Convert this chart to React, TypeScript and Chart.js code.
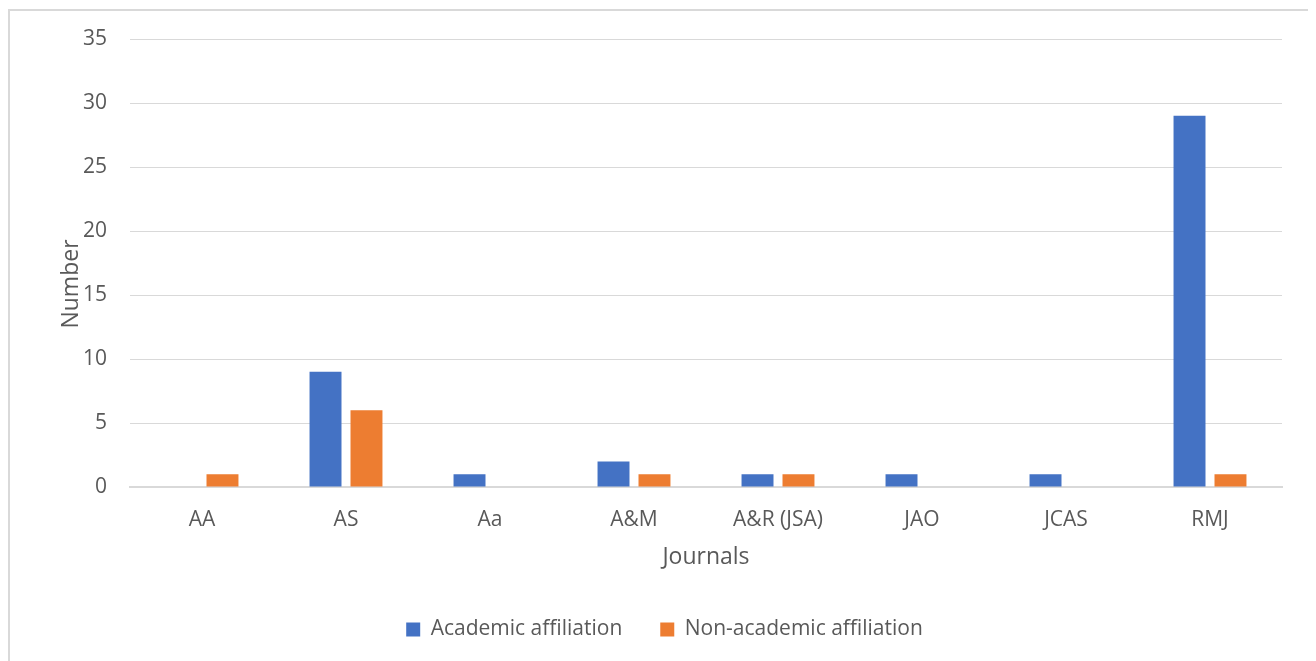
import React, { useEffect, useRef } from "react";
import { Chart, registerables } from "chart.js";

Chart.register(...registerables);

const categories = ["AA", "AS", "Aa", "A&M", "A&R (JSA)", "JAO", "JCAS", "RMJ"];
const academic = [0, 9, 1, 2, 1, 1, 1, 29];
const nonAcademic = [1, 6, 0, 1, 1, 0, 0, 1];
const yTicks = [0, 5, 10, 15, 20, 25, 30, 35];
const seriesNames = ["Academic affiliation", "Non-academic affiliation"];
const xTitle = "Journals";
const yTitle = "Number";

const FONT = "'Open Sans', sans-serif";
const TEXT = "#595959";
const GRID = "#D9D9D9";
const BLUE = "#4472C4";
const ORANGE = "#ED7D31";

export default function App() {
  const ref = useRef<HTMLCanvasElement>(null);

  useEffect(() => {
    document.body.style.overflow = "hidden";
    const yTitlePlugin = {
      id: "yTitlePlugin",
      afterDraw(chart: any) {
        const { ctx, chartArea } = chart;
        ctx.save();
        ctx.translate(chartArea.left - 59, (chartArea.top + chartArea.bottom) / 2 + 21);
        ctx.rotate(-Math.PI / 2);
        ctx.font = `23px ${FONT}`;
        ctx.fillStyle = TEXT;
        ctx.textAlign = "center";
        ctx.textBaseline = "middle";
        ctx.fillText(yTitle, 0, 0);
        ctx.restore();
      },
    };
    const chart = new Chart(ref.current as HTMLCanvasElement, {
      type: "bar",
      data: {
        labels: categories,
        datasets: [
          {
            label: seriesNames[0],
            data: academic,
            backgroundColor: BLUE,
            categoryPercentage: 0.569,
            barPercentage: 0.78,
          },
          {
            label: seriesNames[1],
            data: nonAcademic,
            backgroundColor: ORANGE,
            categoryPercentage: 0.569,
            barPercentage: 0.78,
          },
        ],
      },
      options: {
        animation: false,
        responsive: false,
        layout: { padding: { left: 37, right: 28, top: 28, bottom: 11 } },
        plugins: {
          legend: {
            position: "bottom",
            labels: {
              boxWidth: 14,
              boxHeight: 14,
              padding: 38,
              color: TEXT,
              font: { family: FONT, size: 21 },
            },
          },
          tooltip: { enabled: false },
        },
        scales: {
          x: {
            grid: { display: false, drawTicks: false },
            border: { display: true, color: GRID, width: 2 },
            ticks: { color: TEXT, font: { family: FONT, size: 21 }, padding: 20, maxRotation: 0 },
            title: {
              display: true,
              text: xTitle,
              color: TEXT,
              font: { family: FONT, size: 23 },
              padding: { top: 0, bottom: 10 },
            },
            afterFit(s: any) {
              s.height = 94;
              s.paddingLeft = 0;
              s.paddingRight = 0;
            },
          },
          y: {
            min: 0,
            max: 35,
            afterBuildTicks(s: any) {
              s.ticks = yTicks.map((v) => ({ value: v }));
            },
            ticks: { color: TEXT, font: { family: FONT, size: 21 }, padding: 23 },
            grid: { color: GRID, drawTicks: false, lineWidth: 1 },
            border: { display: false },
            afterFit(s: any) {
              s.width = 83;
              s.paddingTop = 0;
              s.paddingBottom = 0;
            },
          },
        },
      },
      plugins: [yTitlePlugin],
    } as any);
    return () => chart.destroy();
  }, []);

  return (
    <div
      style={{
        position: "relative",
        top: 1,
        width: 1300,
        height: 652,
        borderTop: `2px solid ${GRID}`,
        borderLeft: `2px solid ${GRID}`,
        borderRight: `2px solid ${GRID}`,
      }}
    >
      <canvas ref={ref} width={1300} height={650} style={{ display: "block" }} />
    </div>
  );
}
